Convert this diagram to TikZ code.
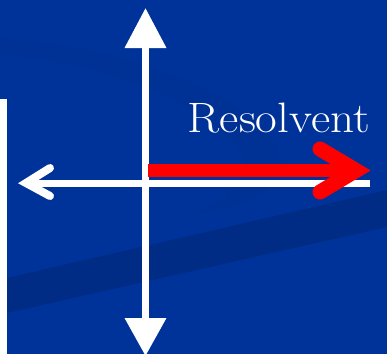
\documentclass[tikz,border=0pt]{standalone}
\usetikzlibrary{arrows.meta}
\definecolor{bgblue}{HTML}{00339A}
\definecolor{bandblue}{HTML}{002C85}
\definecolor{swooshblue}{HTML}{003194}
\definecolor{arrowred}{HTML}{FF0000}
\tikzset{
  axis/.style={white, line width=7pt},
  chevron/.style={line cap=round, line join=miter, miter limit=10},
  lbl/.style={text=white, inner sep=0pt, anchor=base east, xscale=1.11, font=\fontsize{42.5}{42.5}\selectfont}
}
\begin{document}
\begin{tikzpicture}[x=1pt, y=-1pt]
  % background
  \fill[bgblue] (0,0) rectangle (387,354);
  \useasboundingbox (0,0) rectangle (387,354);
  % faint swoosh
  \fill[swooshblue] (0,38) .. controls (150,45) and (300,120) .. (280,175)
    .. controls (270,200) and (220,210) .. (185,217)
    .. controls (240,195) and (255,170) .. (240,150)
    .. controls (200,95) and (80,60) .. (0,55) -- cycle;
  % darker band
  \fill[bandblue] (7,278) -- (387,190) -- (387,227) -- (7,313) -- cycle;
  % left white bar
  \fill[white] (0,99) rectangle (7,354);
  % coordinates
  \coordinate (vtop) at (145.5,8);
  \coordinate (vbot) at (145.5,356);
  \coordinate (hright) at (370,183);
  \coordinate (hleft) at (26,183);
  \coordinate (lu) at (50,168);
  \coordinate (ld) at (50,196);
  \coordinate (rstart) at (148,170.5);
  \coordinate (rend) at (356,170.5);
  \coordinate (ru) at (320,149);
  \coordinate (rd) at (320,192);
  % vertical axis
  \draw[axis, {Triangle[width=40pt,length=40pt]}-{Triangle[width=40pt,length=38pt]}] (vtop) -- (vbot);
  % horizontal axis
  \draw[axis] (hright) -- (hleft);
  \draw[white, line width=8pt, chevron] (lu) -- (hleft) -- (ld);
  % red arrow
  \draw[arrowred, line width=13pt] (rstart) -- (rend);
  \draw[arrowred, line width=15pt, chevron] (ru) -- (rend) -- (rd);
  % label
  \node[lbl] (res) at (370,132) {Resolvent};
\end{tikzpicture}
\end{document}
